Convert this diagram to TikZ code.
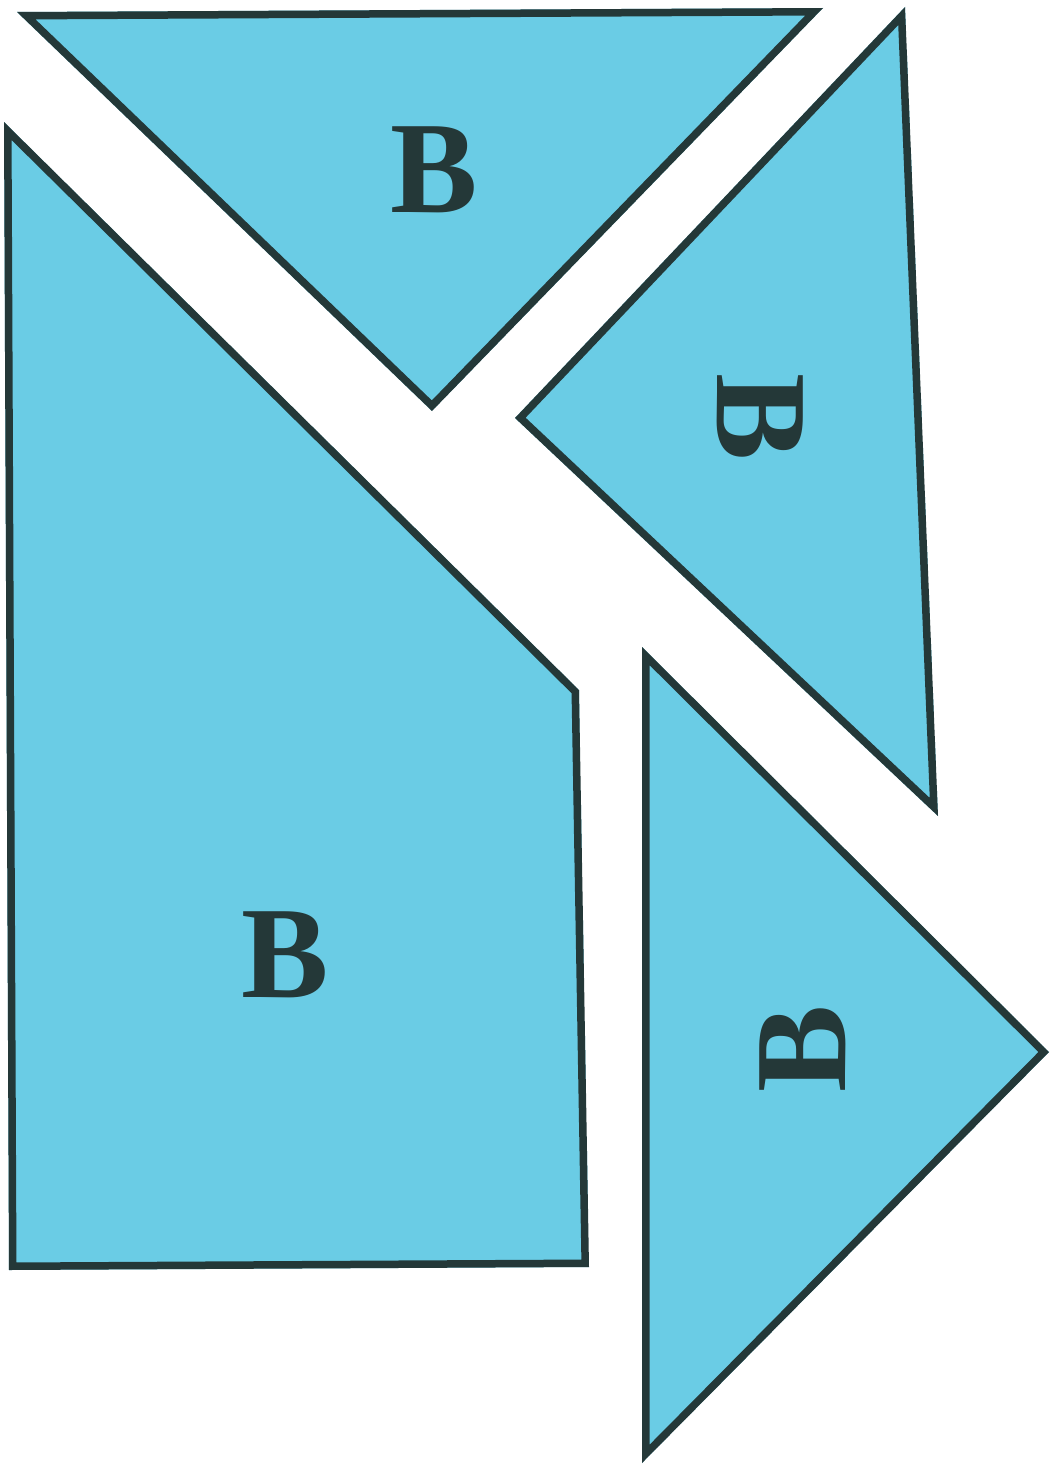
\documentclass[tikz,border=0pt]{standalone}
\usepackage{fontspec}
\setmainfont{Liberation Serif}
\definecolor{paper}{RGB}{106,204,229}
\definecolor{edge}{RGB}{36,56,56}
\tikzset{
  piece/.style={fill=paper},
  rim/.style={draw=edge,line width=15pt,line join=miter},
  letter/.style={text=edge,font=\fontsize{131}{131}\selectfont\bfseries,inner sep=0pt,anchor=center}
}
\newcommand{\tanpiece}[1]{%
  \begin{scope}
    \clip #1;
    \fill[piece] #1;
    \draw[rim] #1;
  \end{scope}}
\begin{document}
\begin{tikzpicture}[x=1pt,y=-1pt]
\useasboundingbox (0,0) rectangle (1053,1472);
\fill[white] (0,0) rectangle (1053,1472);
% top triangle
\tanpiece{(17,12) -- (823,8) -- (432,411) -- cycle}
% right triangle
\tanpiece{(905,7) -- (938,816) -- (515,418) -- cycle}
% pentagon
\tanpiece{(4,122) -- (579,690) -- (589,1267) -- (9,1270) -- cycle}
% bottom triangle
\tanpiece{(642,647) -- (1049,1052) -- (642,1463) -- cycle}
\node[letter] (btop) at (434,170) {B};
\node[letter,rotate=-90] (bright) at (760,417) {B};
\node[letter] (bleft) at (285,955) {B};
\node[letter,rotate=90] (bbottom) at (803,1049) {B};
\end{tikzpicture}
\end{document}
